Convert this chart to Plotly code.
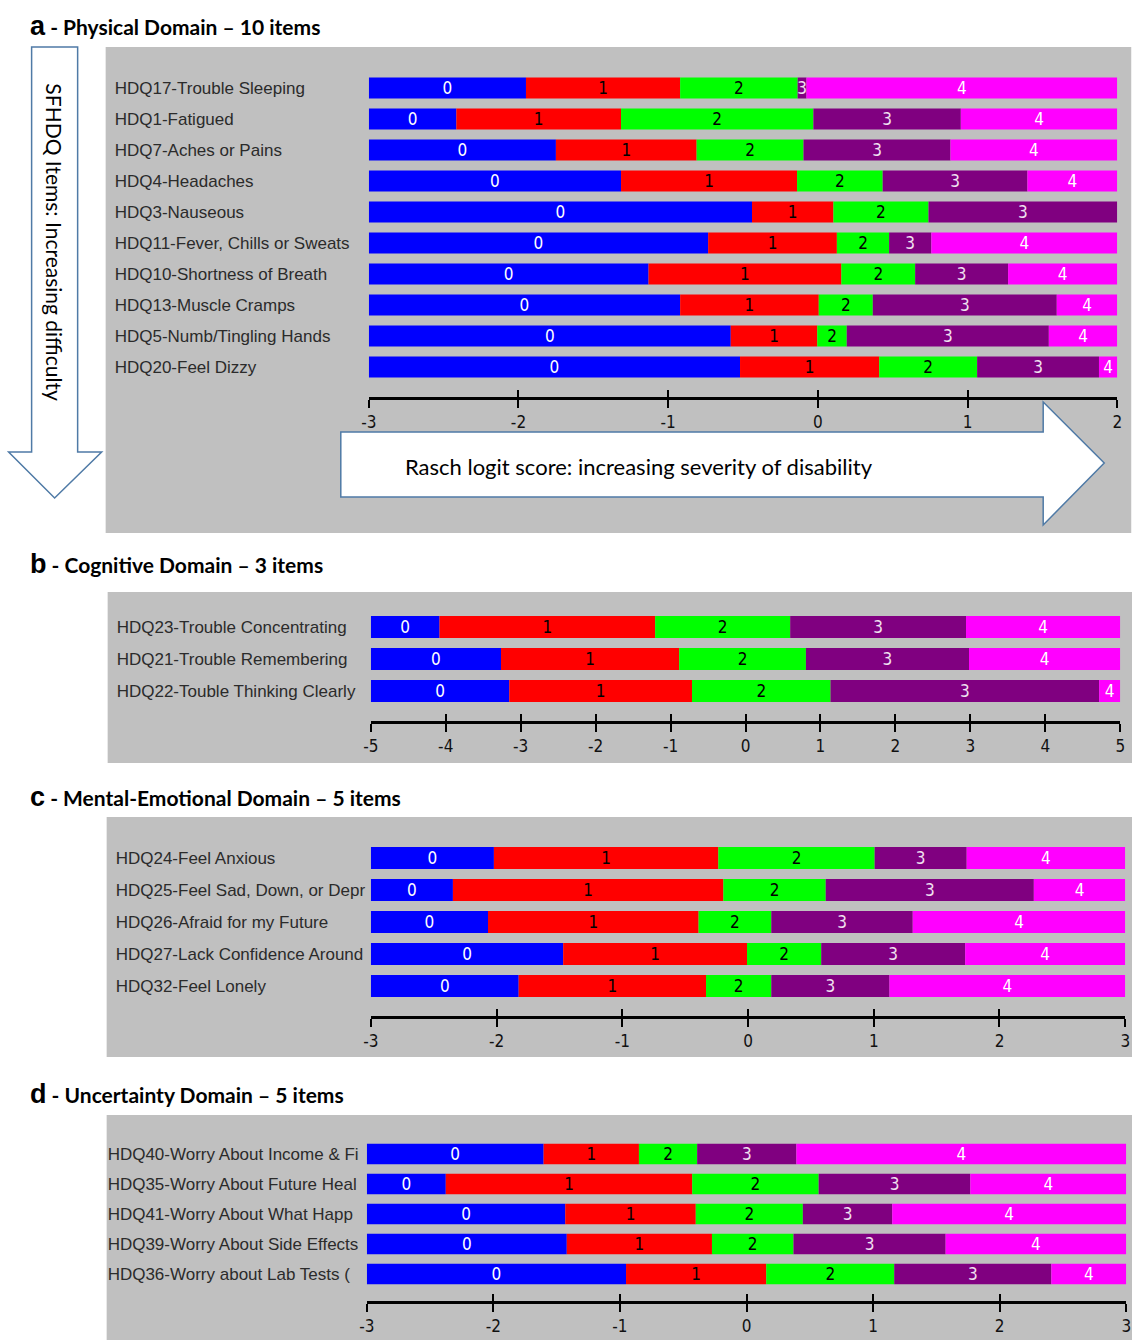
import plotly.graph_objects as go

W, H = 1137, 1340

# ---------------- data ----------------
cat_labels = ["0", "1", "2", "3", "4"]
cat_colors = ["#0000ff", "#ff0000", "#00ff00", "#800080", "#ff00ff"]
cat_text_colors = ["#ffffff", "#000000", "#000000", "#f0e0f0", "#ffffff"]

phys_items = ["HDQ17-Trouble Sleeping", "HDQ1-Fatigued", "HDQ7-Aches or Pains",
              "HDQ4-Headaches", "HDQ3-Nauseous", "HDQ11-Fever, Chills or Sweats",
              "HDQ10-Shortness of Breath", "HDQ13-Muscle Cramps",
              "HDQ5-Numb/Tingling Hands", "HDQ20-Feel Dizzy"]
phys_thresholds = [
    [-1.95, -0.92, -0.135, -0.076],
    [-2.415, -1.315, -0.03, 0.955],
    [-1.75, -0.81, -0.096, 0.886],
    [-1.315, -0.139, 0.433, 1.40],
    [-0.44, 0.104, 0.739, 2.0],
    [-0.733, 0.127, 0.476, 0.758],
    [-1.131, 0.157, 0.650, 1.271],
    [-0.920, 0.006, 0.367, 1.596],
    [-0.582, -0.004, 0.193, 1.543],
    [-0.520, 0.410, 1.064, 1.878],
]
phys_range = [-3, 2]

cog_items = ["HDQ23-Trouble Concentrating", "HDQ21-Trouble Remembering",
             "HDQ22-Touble Thinking Clearly"]
cog_thresholds = [
    [-4.083, -1.206, 0.596, 2.942],
    [-3.263, -0.885, 0.806, 2.982],
    [-3.152, -0.714, 1.134, 4.718],
]
cog_range = [-5, 5]

ment_items = ["HDQ24-Feel Anxious", "HDQ25-Feel Sad, Down, or Depr",
              "HDQ26-Afraid for my Future", "HDQ27-Lack Confidence Around",
              "HDQ32-Feel Lonely"]
ment_thresholds = [
    [-2.021, -0.236, 1.007, 1.739],
    [-2.347, -0.196, 0.618, 2.273],
    [-2.068, -0.393, 0.185, 1.310],
    [-1.470, -0.008, 0.582, 1.727],
    [-1.824, -0.334, 0.185, 1.125],
]
ment_range = [-3, 3]

unc_items = ["HDQ40-Worry About Income & Fi", "HDQ35-Worry About Future Heal",
             "HDQ41-Worry About What Happ", "HDQ39-Worry About Side Effects",
             "HDQ36-Worry about Lab Tests ("]
unc_thresholds = [
    [-1.603, -0.850, -0.390, 0.394],
    [-2.376, -0.429, 0.570, 1.768],
    [-1.432, -0.401, 0.445, 1.151],
    [-1.420, -0.273, 0.371, 1.573],
    [-0.952, 0.156, 1.167, 2.408],
]
unc_range = [-3, 3]

panel_titles = [("a", "Physical Domain – 10 items"),
                ("b", "Cognitive Domain – 3 items"),
                ("c", "Mental-Emotional Domain – 5 items"),
                ("d", "Uncertainty Domain – 5 items")]

# ---------------- layout geometry (target pixels) ----------------
panels = [
    dict(items=phys_items, thr=phys_thresholds, rng=phys_range,
         bg=(106, 47, 1131, 533), xpx=(369, 1117), row0=88, sp=31, axy=398,
         labx=114, ty=26),
    dict(items=cog_items, thr=cog_thresholds, rng=cog_range,
         bg=(108, 592, 1133, 763), xpx=(371, 1120), row0=627, sp=32, axy=722,
         labx=116, ty=564),
    dict(items=ment_items, thr=ment_thresholds, rng=ment_range,
         bg=(107, 817, 1140, 1057), xpx=(371, 1125), row0=858, sp=32, axy=1017,
         labx=115, ty=797),
    dict(items=unc_items, thr=unc_thresholds, rng=unc_range,
         bg=(107, 1115, 1140, 1340), xpx=(367, 1126), row0=1154, sp=30, axy=1302,
         labx=107, ty=1094),
]

# the captured picture maps figure x to about 8.4 + 0.988*x; compensate for it
XS, XO = 0.988, 8.4


def px(x):
    return min(max((x - XO) / XS / W, 0.0), 1.0)


def py(y):
    return min(max(1 - y / H, 0.0), 1.0)


label_font = dict(family="Liberation Sans, Arial, sans-serif", size=17, color="#2b2b2b")
bar_font_family = "Liberation Sans Narrow, DejaVu Sans Condensed, Arial Narrow, sans-serif"
tick_font = dict(family="Liberation Sans Narrow, DejaVu Sans Condensed, sans-serif",
                 size=17, color="#111111")
title_family = "Lato, Open Sans, sans-serif"

fig = go.Figure()
layout = dict(width=W, height=H, margin=dict(l=0, r=0, t=0, b=0),
              paper_bgcolor="white", plot_bgcolor="rgba(0,0,0,0)",
              barmode="overlay", showlegend=False)
shapes = []
annotations = []

for i, p in enumerate(panels):
    n = len(p["items"])
    ax = "" if i == 0 else str(i + 1)
    xname, yname = "x" + ax, "y" + ax
    lo, hi = p["rng"]
    for k in range(5):
        starts, widths, texts = [], [], []
        for t in p["thr"]:
            edges = [lo] + list(t) + [hi]
            s, e = edges[k], edges[k + 1]
            starts.append(s)
            widths.append(e - s)
            texts.append(cat_labels[k] if e - s > 1e-6 else "")
        fig.add_trace(go.Bar(
            orientation="h", y=list(range(n)), x=widths, base=starts,
            width=0.68, marker=dict(color=cat_colors[k], line=dict(width=0)),
            text=texts, textposition="inside", insidetextanchor="middle",
            constraintext="none", textangle=0,
            textfont=dict(family=bar_font_family, size=17, color=cat_text_colors[k]),
            hoverinfo="skip", xaxis=xname, yaxis=yname, cliponaxis=True))

    ytop = p["row0"] - 0.5 * p["sp"]
    ybot = p["row0"] + (n - 0.5) * p["sp"]
    ticks = list(range(lo, hi + 1))
    layout["xaxis" + ax] = dict(
        domain=[px(p["xpx"][0]), px(p["xpx"][1])], range=[lo, hi],
        anchor="free", position=py(p["axy"]), showgrid=False, zeroline=False,
        showline=True, linewidth=3, linecolor="black",
        ticks="outside", ticklen=8, tickwidth=2, tickcolor="black",
        tickvals=ticks, ticktext=[str(v) for v in ticks], tickfont=tick_font,
        fixedrange=True)
    layout["yaxis" + ax] = dict(
        domain=[py(ybot), py(ytop)], range=[n - 0.5, -0.5],
        anchor="free", position=px(p["labx"] - 3), side="left",
        ticklabelposition="inside", ticks="", showgrid=False, zeroline=False,
        showline=False, tickvals=list(range(n)), ticktext=p["items"],
        tickfont=label_font, layer="below traces", fixedrange=True)
    # upper tick marks (overlay axis)
    ov = str(i + 5)
    layout["xaxis" + ov] = dict(
        domain=[px(p["xpx"][0]), px(p["xpx"][1])], range=[lo, hi],
        overlaying=xname, anchor="free", position=py(p["axy"]), side="bottom",
        showgrid=False, zeroline=False, showline=False, ticks="inside",
        ticklen=8, tickwidth=2, tickcolor="black", tickvals=ticks,
        showticklabels=False, fixedrange=True)

    x0, y0, x1, y1 = p["bg"]
    shapes.append(dict(type="rect", xref="paper", yref="paper", layer="below",
                       x0=px(x0), x1=px(x1), y0=py(y1), y1=py(y0),
                       fillcolor="#c0c0c0", line=dict(width=0)))
    letter, title = panel_titles[i]
    annotations.append(dict(
        xref="paper", yref="paper", x=px(28), y=py(p["ty"]), xanchor="left",
        yanchor="middle", showarrow=False,
        text=("<b><span style='font-family:Liberation Sans, Arial; font-size:27px'>"
              + letter + "</span> - " + title + "</b>"),
        font=dict(family=title_family, size=21, color="black")))

# dummy traces so overlay axes exist
for i in range(4):
    fig.add_trace(go.Scatter(x=[None], y=[None], xaxis="x" + str(i + 5),
                             yaxis="y" if i == 0 else "y" + str(i + 1),
                             hoverinfo="skip", showlegend=False))


def path(points):
    return "M " + " L ".join(f"{px(a):.5f},{py(b):.5f}" for a, b in points) + " Z"


arrow_line = dict(color="#4f7aa6", width=1.5)
shapes.append(dict(type="path", xref="paper", yref="paper", layer="above",
                   path=path([(32, 47), (78, 47), (78, 452), (102, 452), (55, 498),
                              (9, 452), (32, 452)]),
                   fillcolor="white", line=arrow_line))
shapes.append(dict(type="path", xref="paper", yref="paper", layer="above",
                   path=path([(341, 432), (1043, 432), (1043, 402), (1104, 463),
                              (1043, 525), (1043, 497), (341, 497)]),
                   fillcolor="white", line=arrow_line))
annotations.append(dict(xref="paper", yref="paper", x=px(55), y=py(242),
                        text="SFHDQ Items: Increasing difficulty", textangle=90,
                        showarrow=False, xanchor="center", yanchor="middle",
                        font=dict(family=title_family, size=21, color="black")))
annotations.append(dict(xref="paper", yref="paper", x=px(403), y=py(466),
                        text="Rasch logit score: increasing severity of disability",
                        showarrow=False, xanchor="left", yanchor="middle",
                        font=dict(family=title_family, size=22, color="black")))

layout["shapes"] = shapes
layout["annotations"] = annotations
fig.update_layout(**layout)
fig.write_html(
    "out.html",
    config={"displayModeBar": False},
    post_script=("document.documentElement.style.margin='0';"
                 "document.body.style.margin='0';"
                 "document.documentElement.style.overflow='hidden';"
                 "document.body.style.overflow='hidden';"))
